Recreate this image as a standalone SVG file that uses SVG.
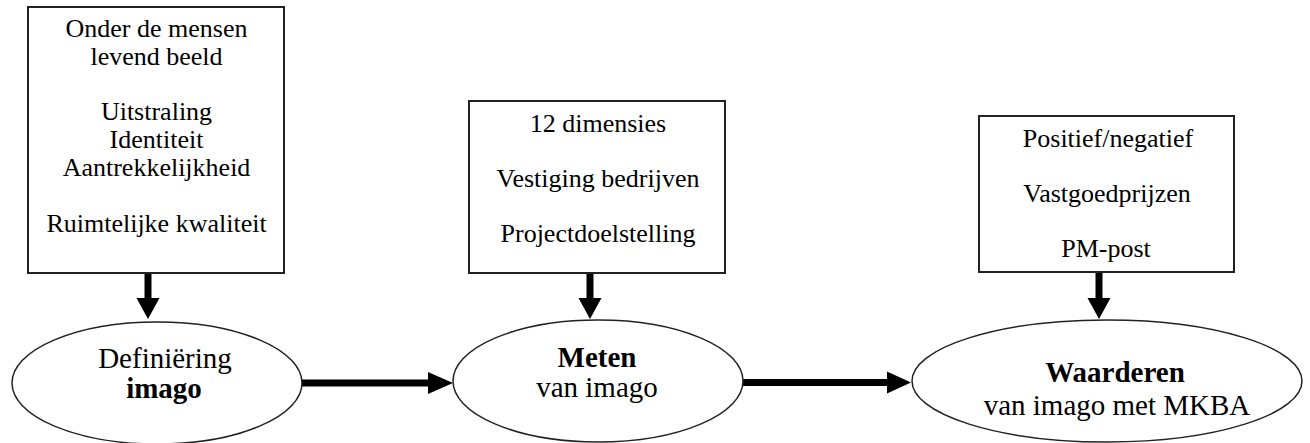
<svg xmlns="http://www.w3.org/2000/svg" width="1310" height="443" viewBox="0 0 1310 443">
  <style>
    .box { fill: #fff; stroke: #222; stroke-width: 2; }
    .oval { fill: #fff; stroke: #222; stroke-width: 1.5; }
    .t { font-family: "Liberation Serif", "Times New Roman", serif; fill: #000; text-anchor: middle; }
    .bt { font-size: 26px; }
    .et { font-size: 29px; }
    .b { font-weight: bold; }
    .shaft { stroke: #000; stroke-width: 7; fill: none; }
    .head { fill: #000; }
  </style>
  <rect width="1310" height="443" fill="#fff"/>

  <!-- connectors -->
  <g id="connectors">
    <!-- box to ellipse, vertical -->
    <line class="shaft" x1="148" y1="273" x2="148" y2="299"/>
    <polygon class="head" points="136.5,298 159.5,298 148,319"/>
    <line class="shaft" x1="590" y1="273" x2="590" y2="299"/>
    <polygon class="head" points="578.5,298 601.5,298 590,319"/>
    <line class="shaft" x1="1099" y1="272" x2="1099" y2="299"/>
    <polygon class="head" points="1087.5,298 1110.5,298 1099,319"/>
    <!-- ellipse to ellipse, horizontal -->
    <line class="shaft" x1="302" y1="383" x2="430" y2="383"/>
    <polygon class="head" points="428,372 428,394 453,383"/>
    <line class="shaft" x1="743" y1="382.5" x2="889" y2="382.5"/>
    <polygon class="head" points="887,371.5 887,393.5 911,382.5"/>
  </g>

  <g id="box-beeld">
    <rect class="box" x="28" y="7" width="256" height="266"/>
    <text class="t bt" x="156.5" y="37">Onder de mensen</text>
    <text class="t bt" x="156.5" y="65">levend beeld</text>
    <text class="t bt" x="156.5" y="120">Uitstraling</text>
    <text class="t bt" x="156.5" y="148">Identiteit</text>
    <text class="t bt" x="156.5" y="176">Aantrekkelijkheid</text>
    <text class="t bt" x="156.5" y="232">Ruimtelijke kwaliteit</text>
  </g>

  <g id="box-meten">
    <rect class="box" x="469" y="101" width="256" height="172"/>
    <text class="t bt" x="598" y="132">12 dimensies</text>
    <text class="t bt" x="598" y="187">Vestiging bedrijven</text>
    <text class="t bt" x="598" y="242">Projectdoelstelling</text>
  </g>

  <g id="box-waarderen">
    <rect class="box" x="979" y="116" width="255" height="156"/>
    <text class="t bt" x="1108" y="147">Positief/negatief</text>
    <text class="t bt" x="1107" y="202">Vastgoedprijzen</text>
    <text class="t bt" x="1106" y="257">PM-post</text>
  </g>

  <g id="node-definiering">
    <ellipse class="oval" cx="157" cy="383" rx="145" ry="61"/>
    <text class="t et" x="165" y="368">Definiëring</text>
    <text class="t et b" x="164" y="398">imago</text>
  </g>

  <g id="node-meten">
    <ellipse class="oval" cx="598" cy="381" rx="145" ry="61"/>
    <text class="t et b" x="597" y="367">Meten</text>
    <text class="t et" x="597" y="397">van imago</text>
  </g>

  <g id="node-waarderen">
    <ellipse class="oval" cx="1107" cy="381" rx="195" ry="61"/>
    <text class="t et b" x="1115" y="382">Waarderen</text>
    <text class="t et" x="1117" y="415">van imago met MKBA</text>
  </g>
</svg>
